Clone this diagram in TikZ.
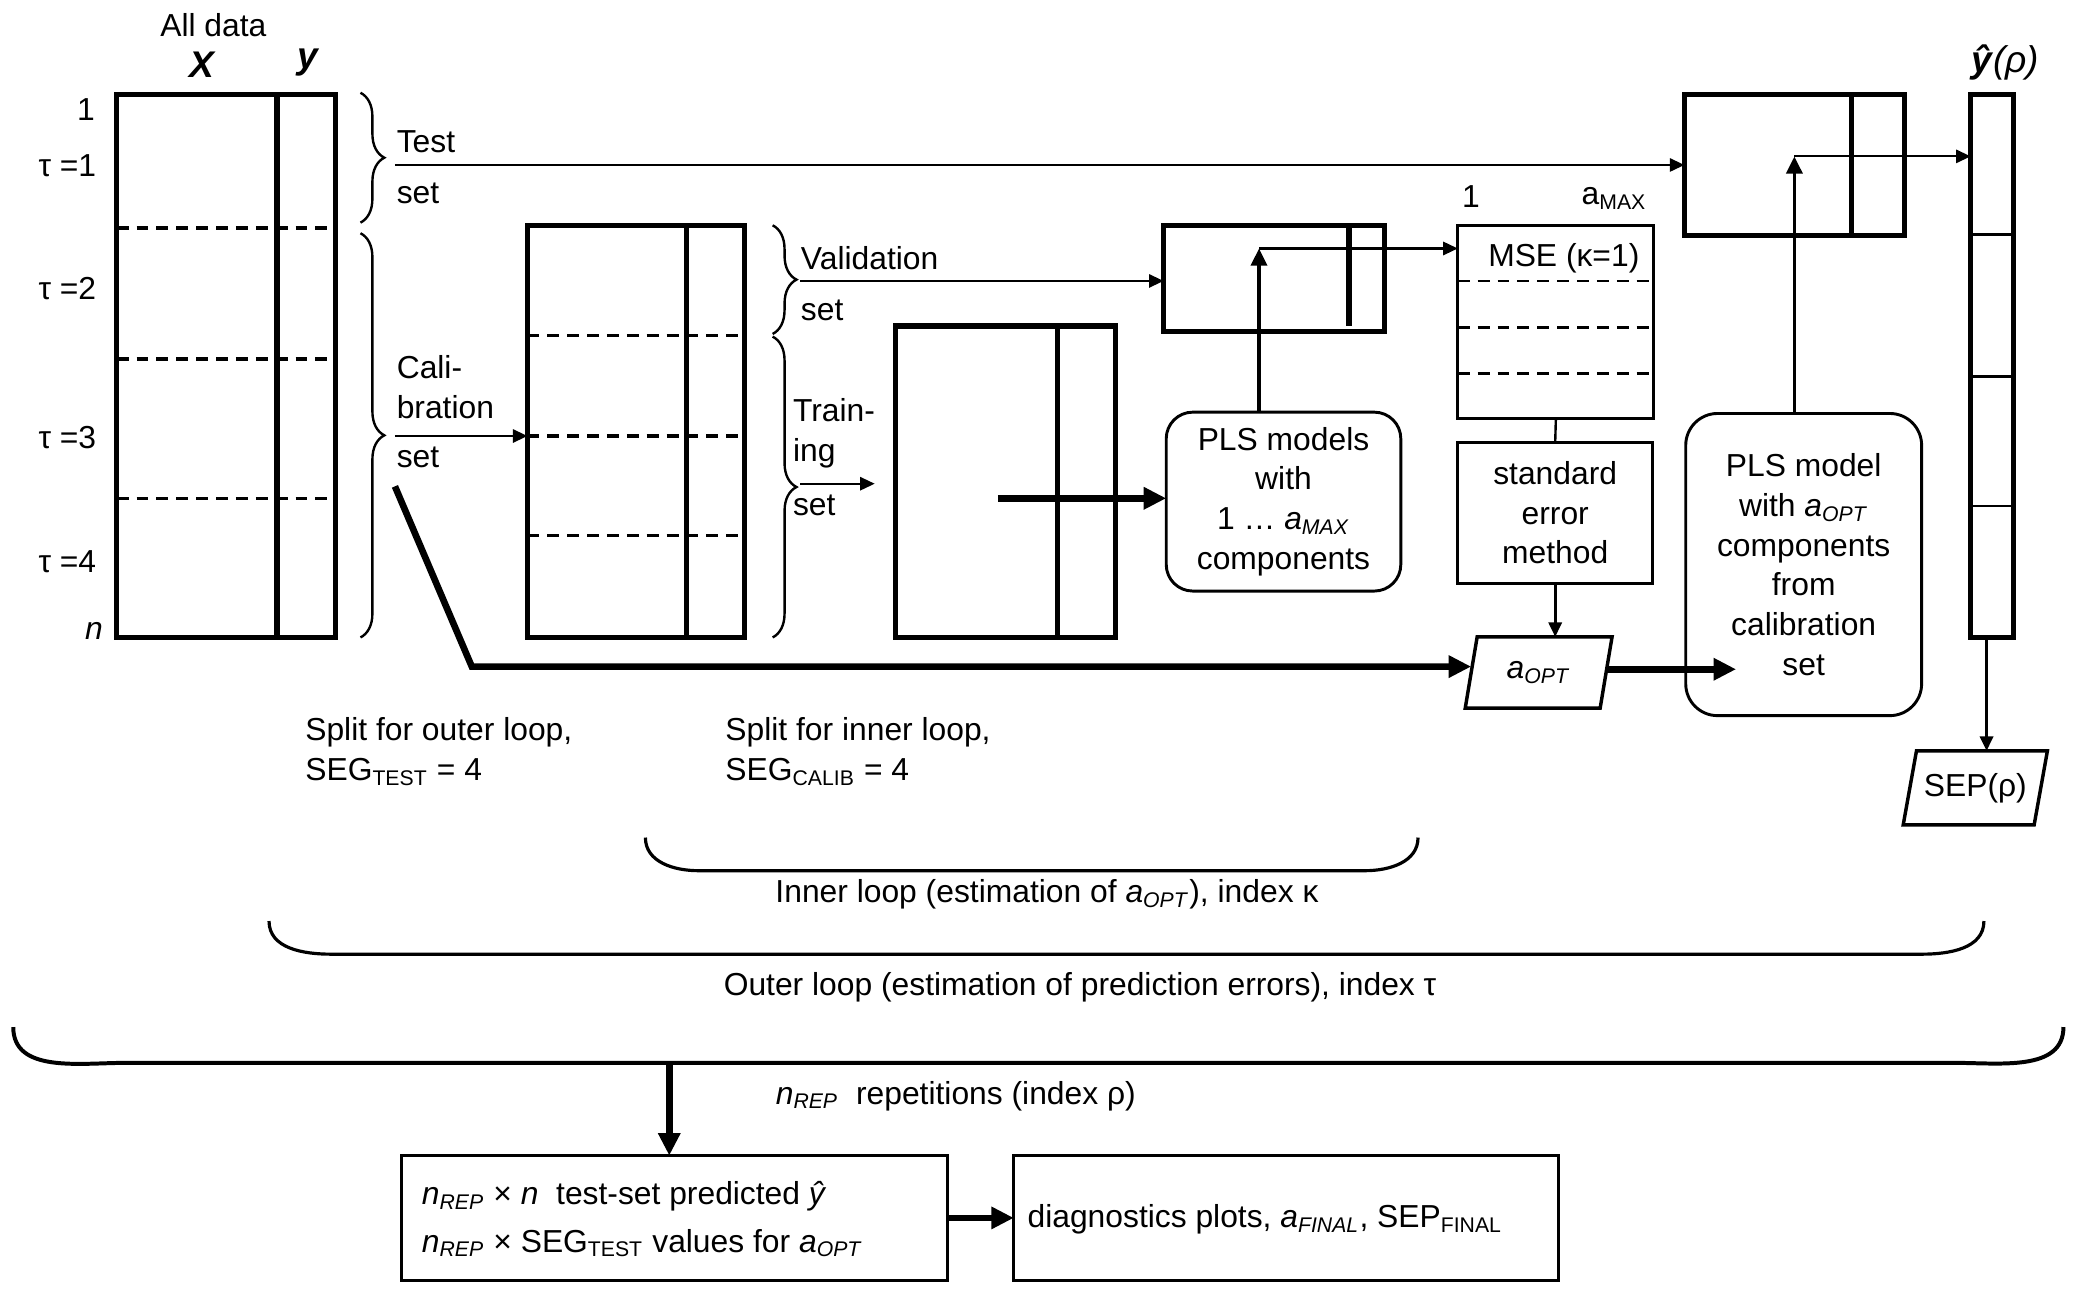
\documentclass[tikz,border=0pt]{standalone}
\usepackage{fontspec}
\setmainfont{Liberation Sans}
\usetikzlibrary{arrows.meta,decorations.pathreplacing,positioning}
\newcommand{\isub}[2]{\textit{#1}\textsubscript{\textit{#2}}}
\tikzset{
  lab/.style={font=\fontsize{12}{15}\selectfont,inner sep=0pt},
  big/.style={font=\fontsize{14}{16}\selectfont\bfseries\itshape,inner sep=0pt},
  mat/.style={draw,line width=1.9pt,inner sep=0pt,outer sep=0pt},
  tbox/.style={draw,line width=1.1pt,inner sep=0pt,outer sep=0pt,align=center,font=\fontsize{12}{15}\selectfont},
  rbox/.style={tbox,rounded corners=10pt},
  divl/.style={line width=1.9pt},
  thinl/.style={line width=0.9pt},
  segcut/.style={line width=1.3pt,dash pattern=on 4.5pt off 3pt},
  brc/.style={decorate,decoration={brace,amplitude=9pt},line width=0.9pt},
  loopb/.style={line width=1.2pt},
  arr/.style={-{Triangle[length=5.5pt,width=5pt]},line width=0.8pt},
  midarr/.style={-{Triangle[length=6.5pt,width=6pt]},line width=1.4pt},
  fat/.style={-{Triangle[length=8.5pt,width=8pt]},line width=2.5pt},
  pgline/.style={line width=1.3pt,line join=miter},
}
\begin{document}
\begin{tikzpicture}[x=5pt,y=5pt]
  \useasboundingbox (0,0) rectangle (156.8,-97.2);
  % all data
  \node[lab] (alltxt) at (16.1,-1.9) {All data};
  \node[big] (xlab) at (15.2,-4.9) {X};
  \node[big] (ylab) at (23.2,-4.7) {y};
  \node[mat,minimum width=82.5pt,minimum height=205pt] (alld) at (17.05,-27.6) {};
  \draw[divl] (20.9,-7.1) -- (20.9,-48.1);
  \draw[segcut] (8.8,-17.2) -- (25.3,-17.2);
  \draw[segcut] (8.8,-27.1) -- (25.3,-27.1);
  \draw[segcut] (8.8,-37.6) -- (25.3,-37.6);
  \node[lab,anchor=east] (row1) at (7.2,-8.3) {1};
  \node[lab,anchor=east] (tau1) at (7.3,-12.5) {τ =1};
  \node[lab,anchor=east] (tau2) at (7.3,-21.8) {τ =2};
  \node[lab,anchor=east] (tau3) at (7.3,-33.0) {τ =3};
  \node[lab,anchor=east] (tau4) at (7.3,-42.4) {τ =4};
  \node[lab,anchor=east] (rown) at (7.8,-47.6) {\textit{n}};
  % outer split
  \draw[brc] (27.2,-7.0) -- (27.2,-16.8);
  \draw[brc] (27.2,-17.6) -- (27.2,-48.1);
  \coordinate (tstfrom) at (29.8,-12.45);
  \coordinate (calfrom) at (29.8,-32.9);
  \node[lab,anchor=west] (tsttxt) at (29.9,-10.7) {Test};
  \node[lab,anchor=west] (tstset) at (29.9,-14.6) {set};
  \node[lab,anchor=west,align=left] (caltxt) at (29.9,-29.2) {Cali-\\bration};
  \node[lab,anchor=west] (calset) at (29.9,-34.5) {set};
  % calibration set
  \node[mat,minimum width=82pt,minimum height=155.5pt] (cal) at (48.0,-32.55) {};
  \draw[divl] (51.8,-17.0) -- (51.8,-48.1);
  \draw[segcut] (39.8,-25.3) -- (56.2,-25.3);
  \draw[segcut] (39.8,-32.9) -- (56.2,-32.9);
  \draw[segcut] (39.8,-40.4) -- (56.2,-40.4);
  % inner split
  \draw[brc] (58.3,-17.0) -- (58.3,-25.2);
  \draw[brc] (58.3,-25.4) -- (58.3,-48.1);
  \coordinate (valfrom) at (60.4,-21.2);
  \coordinate (trnfrom) at (60.4,-36.5);
  \coordinate (trnto) at (66.0,-36.5);
  \node[lab,anchor=west] (valtxt) at (60.4,-19.5) {Validation};
  \node[lab,anchor=west] (valset) at (60.4,-23.4) {set};
  \node[lab,anchor=west,align=left] (trntxt) at (59.8,-32.7) {Train-\\ing};
  \node[lab,anchor=west] (trnset) at (59.8,-38.1) {set};
  % training set
  \node[mat,minimum width=83pt,minimum height=117.5pt] (trn) at (75.9,-36.35) {};
  \draw[divl] (79.8,-24.6) -- (79.8,-48.1);
  \coordinate (trnc) at (75.3,-37.6);
  % validation set
  \node[mat,minimum width=83.5pt,minimum height=40pt] (val) at (96.15,-21.0) {};
  \draw[line width=2.2pt] (101.8,-17.0) -- (101.8,-24.6);
  \node[rbox,minimum width=88.5pt,minimum height=67.5pt] (plsm) at (96.85,-37.85)
    {PLS models\\with\\1 \ldots\ \isub{a}{MAX}\\components};
  \coordinate (valc) at (95.0,-18.75);
  % MSE table
  \node[lab] (one) at (111.0,-14.8) {1};
  \node[lab] (amax) at (121.8,-15.0) {a\textsubscript{MAX}};
  \node[tbox,minimum width=74pt,minimum height=73pt] (mse) at (117.4,-24.3) {};
  \node[lab] (msetxt) at (118.0,-19.5) {MSE (κ=1)};
  \draw[segcut,line width=1pt] (110.0,-21.2) -- (124.8,-21.2);
  \draw[segcut,line width=1pt] (110.0,-24.7) -- (124.8,-24.7);
  \draw[segcut,line width=1pt] (110.0,-28.2) -- (124.8,-28.2);
  \node[tbox,minimum width=73.5pt,minimum height=53pt] (se) at (117.35,-38.7) {standard\\error\\method};
  \node[lab,minimum width=50.5pt,minimum height=26.5pt] (aopt) at (116.1,-50.75) {\isub{a}{OPT}};
  \draw[pgline] ([xshift=-2.25pt]aopt.south west) -- ([xshift=2.25pt]aopt.north west)
    -- ([xshift=2.25pt]aopt.north east) -- ([xshift=-2.25pt]aopt.south east) -- cycle;
  % final model and test set
  \node[mat,minimum width=83pt,minimum height=53.5pt] (tst) at (135.4,-12.45) {};
  \draw[divl] (139.7,-7.1) -- (139.7,-17.8);
  \coordinate (tstc) at (135.4,-11.8);
  \node[rbox,minimum width=89pt,minimum height=114pt,rounded corners=12pt] (plsf) at (136.1,-42.6)
    {PLS model\\with \isub{a}{OPT}\\components\\from\\calibration\\set};
  \coordinate (plsfin) at (131.0,-50.5);
  \node[mat,minimum width=16pt,minimum height=205pt] (yh) at (150.3,-27.6) {};
  \draw[thinl] (148.7,-17.7) -- (151.9,-17.7);
  \draw[thinl] (148.7,-28.4) -- (151.9,-28.4);
  \draw[thinl] (148.7,-38.2) -- (151.9,-38.2);
  \node[big,font=\fontsize{14}{16}\selectfont] (yhlab) at (151.3,-4.7) {\textbf{\textit{ŷ}}\textit{(ρ)}};
  \node[lab,minimum width=49pt,minimum height=27.5pt] (sep) at (149.05,-59.45) {SEP(ρ)};
  \draw[pgline] ([xshift=-2.5pt]sep.south west) -- ([xshift=2.5pt]sep.north west)
    -- ([xshift=2.5pt]sep.north east) -- ([xshift=-2.5pt]sep.south east) -- cycle;
  \coordinate (yhout) at (149.9,-48.1);
  % connectors
  \draw[arr] (tstfrom) -- (tstfrom -| tst.west);
  \draw[arr] (calfrom) -- (calfrom -| cal.west);
  \draw[arr] (valfrom) -- (valfrom -| val.west);
  \draw[arr] (trnfrom) -- (trnto);
  \draw[fat] (trnc) -- (trnc -| plsm.west);
  \draw[midarr] (valc |- plsm.north) -- (valc);
  \draw[arr] (valc) -- (valc -| mse.west);
  \draw[thinl] (mse.south) -- (se.north);
  \draw[arr,line width=1pt] (se.south) -- (se.south |- aopt.north);
  \coordinate (calfat) at (29.8,-36.7);
  \coordinate (calknee) at (35.6,-50.3);
  \draw[fat] (calfat) -- (calknee) -- (calknee -| aopt.west);
  \draw[fat] (aopt.east |- plsfin) -- (plsfin);
  \draw[midarr] (tstc |- plsf.north) -- (tstc);
  \draw[arr] (tstc) -- (tstc -| yh.west);
  \draw[arr,line width=1.1pt] (yhout) -- (yhout |- sep.north);
  % split notes
  \node[lab,anchor=north west,align=left] (outsplit) at (23.0,-54.1)
    {Split for outer loop,\\SEG\textsubscript{TEST} = 4};
  \node[lab,anchor=north west,align=left] (insplit) at (54.7,-54.1)
    {Split for inner loop,\\SEG\textsubscript{CALIB} = 4};
  % loops
  \draw[loopb] (48.7,-63.2) to[out=-90,in=180] (52.7,-65.7) -- (103.0,-65.7) to[out=0,in=-90] (107.0,-63.2);
  \node[lab] (innertxt) at (79.0,-67.5) {Inner loop (estimation of \isub{a}{OPT}), index κ};
  \draw[loopb] (20.3,-69.5) to[out=-90,in=180] (25.0,-72.0) -- (145.0,-72.0) to[out=0,in=-90] (149.7,-69.5);
  \node[lab] (outertxt) at (81.5,-74.5) {Outer loop (estimation of prediction errors), index τ};
  \draw[loopb,line width=1.5pt] (1.0,-77.5) to[out=-90,in=180] (9.5,-80.2) -- (147.5,-80.2) to[out=0,in=-90] (155.7,-77.5);
  \coordinate (repc) at (50.5,-80.2);
  \node[lab,anchor=west] (reptxt) at (58.5,-82.7) {\isub{n}{REP}\ \ repetitions (index ρ)};
  % results
  \node[tbox,minimum width=206pt,minimum height=47pt] (res) at (50.9,-91.9) {};
  \node[lab,anchor=west,align=left,font=\fontsize{12}{18}\selectfont] (restxt) at (31.8,-92.0)
    {\isub{n}{REP} × \textit{n}\ \ test-set predicted \textit{ŷ}\\\isub{n}{REP} × SEG\textsubscript{TEST} values for \isub{a}{OPT}};
  \node[tbox,minimum width=205.5pt,minimum height=47pt] (diag) at (97.05,-91.9) {};
  \node[lab,anchor=west] (diagtxt) at (77.5,-92.0) {diagnostics plots, \isub{a}{FINAL}, SEP\textsubscript{FINAL}};
  \draw[fat] (repc) -- (repc |- res.north);
  \draw[fat] (res.east) -- (diag.west);
\end{tikzpicture}
\end{document}
